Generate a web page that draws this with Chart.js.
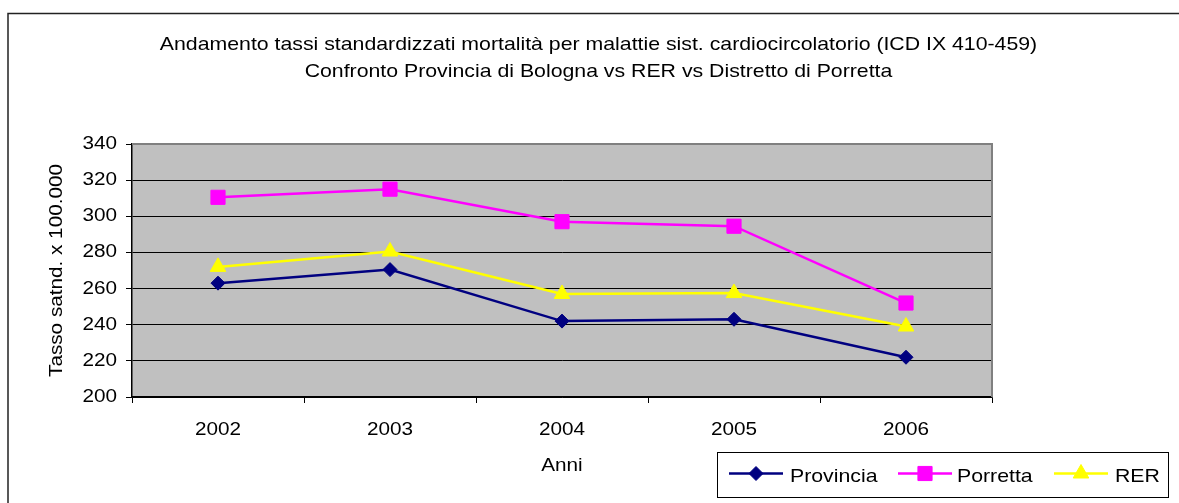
<!DOCTYPE html>
<html>
<head>
<meta charset="utf-8">
<title>Tassi standardizzati mortalità</title>
<script src="https://cdn.jsdelivr.net/npm/chart.js@4/dist/chart.umd.min.js"></script>
<style>
  html, body { margin: 0; padding: 0; background: #fff; }
  #chart { display: block; }
</style>
</head>
<body>
<canvas id="chart" width="1179" height="503"></canvas>
<script>
  "use strict";

  // data
  const anni = ['2002', '2003', '2004', '2005', '2006'];
  const provincia = [263, 270.5, 242, 243, 222];
  const porretta = [310.5, 315, 297, 294.5, 252];
  const rer = [272, 280.5, 257, 257.5, 239];
  const yMin = 200, yMax = 340, yStep = 20;

  const titleLines = [
    'Andamento tassi standardizzati mortalità per malattie sist. cardiocircolatorio (ICD IX 410-459)',
    'Confronto Provincia di Bologna vs RER vs Distretto di Porretta'
  ];

  const FONT = "'Liberation Sans', Arial, sans-serif";
  const TEXT_SX = 1.15; // source text renders a bit wider than Arial

  var canvas = document.getElementById('chart');
  var ctx = canvas.getContext('2d');

  // stretch every string along its reading direction
  var origFillText = ctx.fillText;
  ctx.fillText = function (text, x, y, maxWidth) {
    this.save();
    this.translate(x, 0);
    this.scale(TEXT_SX, 1);
    if (maxWidth === undefined) {
      origFillText.call(this, text, 0, y);
    } else {
      origFillText.call(this, text, 0, y, maxWidth / TEXT_SX);
    }
    this.restore();
  };

  const frame = {
    id: 'frame',
    beforeDraw(chart) {
      const c = chart.ctx, a = chart.chartArea;
      c.save();
      // outer chart border (only top and left fall inside the picture)
      c.strokeStyle = '#222';
      c.lineWidth = 1.5;
      c.beginPath();
      c.moveTo(1179, 13.5);
      c.lineTo(8, 13.5);
      c.lineTo(8, 503);
      c.stroke();
      // plot area
      c.fillStyle = '#c0c0c0';
      c.fillRect(a.left, a.top, a.right - a.left, a.bottom - a.top);
      // title
      c.fillStyle = '#000';
      c.font = '18.5px ' + FONT;
      c.textAlign = 'center';
      c.textBaseline = 'alphabetic';
      c.fillText(titleLines[0], 598.5, 50);
      c.fillText(titleLines[1], 598.5, 77);
      c.restore();
    },
    beforeDatasetsDraw(chart) {
      const c = chart.ctx, a = chart.chartArea;
      c.save();
      c.strokeStyle = '#808080';
      c.lineWidth = 2;
      c.beginPath();
      c.moveTo(a.left, a.top);
      c.lineTo(a.right, a.top);
      c.lineTo(a.right, a.bottom);
      c.stroke();
      c.restore();
    },
    afterDraw(chart) {
      // legend box, bottom right
      const c = chart.ctx;
      const box = { x: 717, y: 452, w: 451, h: 45 };
      const items = [
        { x: 729, tx: 790 },
        { x: 898, tx: 957 },
        { x: 1054, tx: 1115 }
      ];
      const ly = 473.5;
      c.save();
      c.fillStyle = '#fff';
      c.fillRect(box.x, box.y, box.w, box.h);
      c.strokeStyle = '#000';
      c.lineWidth = 1;
      c.strokeRect(box.x + 0.5, box.y + 0.5, box.w, box.h);
      chart.data.datasets.forEach(function (ds, i) {
        const it = items[i];
        c.strokeStyle = ds.borderColor;
        c.lineWidth = ds.borderWidth;
        c.beginPath();
        c.moveTo(it.x, ly);
        c.lineTo(it.x + 54, ly);
        c.stroke();
        c.fillStyle = ds.pointBackgroundColor;
        c.strokeStyle = ds.borderColor;
        c.lineWidth = 1;
        Chart.helpers.drawPoint(c, {
          pointStyle: ds.pointStyle,
          radius: ds.pointRadius,
          rotation: 0,
          borderWidth: 1
        }, it.x + 27, ly);
        c.fillStyle = '#000';
        c.font = '18.5px ' + FONT;
        c.textAlign = 'left';
        c.textBaseline = 'alphabetic';
        c.fillText(ds.label, it.tx, 482);
      });
      c.restore();
    }
  };

  function serie(label, values, color, style, radius) {
    return {
      label: label,
      data: values,
      borderColor: color,
      backgroundColor: color,
      pointBackgroundColor: color,
      pointBorderColor: color,
      borderWidth: 2.5,
      pointStyle: style,
      pointRadius: radius,
      pointBorderWidth: 1,
      tension: 0,
      fill: false
    };
  }

  new Chart(ctx, {
    type: 'line',
    data: {
      labels: anni,
      datasets: [
        serie('Provincia', provincia, '#000080', 'rectRot', 7),
        serie('Porretta', porretta, '#ff00ff', 'rect', 10),
        serie('RER', rer, '#ffff00', 'triangle', 9)
      ]
    },
    options: {
      responsive: false,
      animation: false,
      layout: { padding: { left: 0, top: 144, right: 187, bottom: 0 } },
      plugins: {
        legend: { display: false },
        title: { display: false },
        tooltip: { enabled: false }
      },
      scales: {
        x: {
          type: 'category',
          offset: true,
          afterFit: function (s) { s.height = 106; },
          grid: {
            offset: true,
            drawOnChartArea: false,
            drawTicks: true,
            tickLength: 6,
            tickColor: '#000',
            color: '#000'
          },
          border: { color: '#000', width: 1.5 },
          ticks: { color: '#000', font: { family: FONT, size: 18 }, padding: 16, maxRotation: 0 },
          title: {
            display: true,
            text: 'Anni',
            color: '#000',
            font: { family: FONT, size: 18 },
            padding: { top: 0, bottom: 26 }
          }
        },
        y: {
          min: yMin,
          max: yMax,
          afterFit: function (s) { s.width = 132; },
          grid: {
            color: '#000',
            lineWidth: 1,
            drawTicks: true,
            tickLength: 6,
            tickColor: '#000'
          },
          border: { color: '#000', width: 1.5 },
          ticks: { stepSize: yStep, color: '#000', font: { family: FONT, size: 18 }, padding: 9 },
          title: {
            display: true,
            text: 'Tasso satnd. x 100.000',
            color: '#000',
            font: { family: FONT, size: 18 },
            padding: { top: 46, bottom: 0 }
          }
        }
      }
    },
    plugins: [frame]
  });
</script>
</body>
</html>
